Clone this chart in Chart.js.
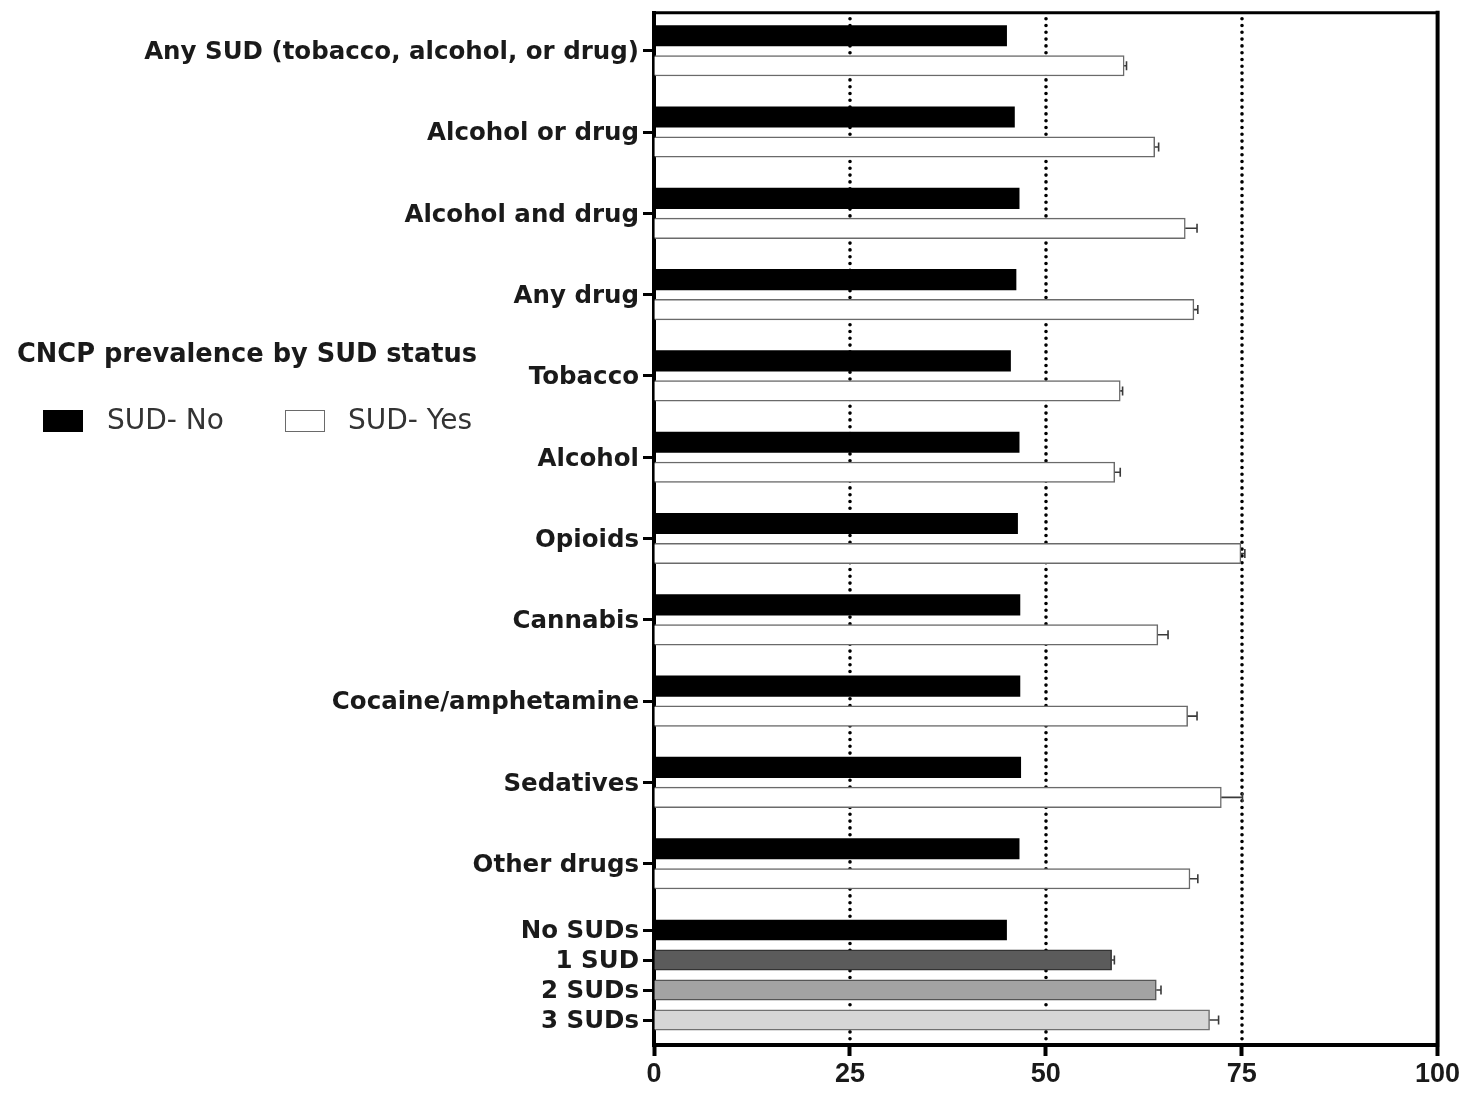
<!DOCTYPE html>
<html>
<head>
<meta charset="utf-8">
<title>CNCP prevalence by SUD status</title>
<script src="https://cdn.jsdelivr.net/npm/chart.js@4.4.1/dist/chart.umd.min.js"></script>
<style>
  html, body { margin: 0; padding: 0; background: #fff; overflow: hidden; }
  #wrap { position: relative; width: 1460px; height: 1095px; overflow: hidden; }
  #chart { position: absolute; left: 0; top: 0; }
  .legend-title { position: absolute; left: 17px; top: 341px; font: bold 25.7px "DejaVu Sans"; line-height: 1; color: #1a1a1a; white-space: nowrap; }
  .legend-item { position: absolute; top: 406px; font: 28px "DejaVu Sans"; line-height: 1; color: #333; white-space: nowrap; }
  .swatch { position: absolute; top: 410px; width: 40px; height: 22px; box-sizing: border-box; }
</style>
</head>
<body>
<div id="wrap">
  <canvas id="chart" width="1480" height="1095" style="width:1480px;height:1095px"></canvas>
  <div class="legend-title" id="legendTitle"></div>
  <div class="swatch" style="left:43px;background:#000"></div>
  <div class="legend-item" id="legendNo" style="left:107px"></div>
  <div class="swatch" style="left:285px;background:#fff;border:1.5px solid #6a6a6a"></div>
  <div class="legend-item" id="legendYes" style="left:348px"></div>
</div>
<script>
// ---- data ----
const legendTitle = 'CNCP prevalence by SUD status';
const seriesNames = ['SUD- No', 'SUD- Yes'];

const groupLabels = [
  'Any SUD (tobacco, alcohol, or drug)',
  'Alcohol or drug',
  'Alcohol and drug',
  'Any drug',
  'Tobacco',
  'Alcohol',
  'Opioids',
  'Cannabis',
  'Cocaine/amphetamine',
  'Sedatives',
  'Other drugs'
];
const sudNo     = [45.0, 46.0, 46.6, 46.2, 45.5, 46.6, 46.4, 46.7, 46.7, 46.8, 46.6];
const sudYes    = [60.0, 63.9, 67.8, 68.9, 59.5, 58.8, 74.9, 64.3, 68.1, 72.4, 68.4];
const sudYesErr = [0.3, 0.5, 1.5, 0.5, 0.3, 0.7, 0.5, 1.3, 1.2, 2.7, 1.0];

const countLabels = ['No SUDs', '1 SUD', '2 SUDs', '3 SUDs'];
const countValues = [45.0, 58.4, 64.1, 70.9];
const countErr    = [0, 0.35, 0.6, 1.15];

const xTicks   = [0, 25, 50, 75, 100];
const refLines = [25, 50, 75];

// ---- vertical layout: one unit = one bar step ----
const FIRST_SLOT = 0.767;
const GROUP_STEP = 2.71;
const AXIS_SPAN  = 34.41;
const slot = (g, k) => FIRST_SLOT + GROUP_STEP * g + k;
const countGroup = groupLabels.length;

const noPoints    = sudNo.map((v, i) => ({ x: v, y: slot(i, 0) }));
const yesPoints   = sudYes.map((v, i) => ({ x: v, y: slot(i, 1) }));
const countPoints = countValues.map((v, i) => ({ x: v, y: slot(countGroup, i) }));

const yTickPos  = groupLabels.map((_, i) => slot(i, 0.5))
                  .concat(countLabels.map((_, i) => slot(countGroup, i)));
const yTickText = groupLabels.concat(countLabels);

document.getElementById('legendTitle').textContent = legendTitle;
document.getElementById('legendNo').textContent = seriesNames[0];
document.getElementById('legendYes').textContent = seriesNames[1];

// dotted reference lines behind the bars
const refLinePlugin = {
  id: 'refLines',
  beforeDatasetsDraw(chart) {
    const { ctx, chartArea } = chart;
    const xs = chart.scales.x;
    ctx.save();
    ctx.strokeStyle = '#000';
    ctx.lineWidth = 3.6;
    ctx.lineCap = 'round';
    ctx.setLineDash([0, 6.8]);
    refLines.forEach(v => {
      const x = Math.round(xs.getPixelForValue(v));
      ctx.beginPath();
      ctx.moveTo(x, chartArea.top + 6);
      ctx.lineTo(x, chartArea.bottom - 2);
      ctx.stroke();
    });
    ctx.restore();
  }
};

// one-sided error bars with caps
const errorBarPlugin = {
  id: 'errorBars',
  afterDatasetsDraw(chart) {
    const { ctx } = chart;
    const xs = chart.scales.x;
    chart.data.datasets.forEach((ds, di) => {
      if (!ds.errors) return;
      const meta = chart.getDatasetMeta(di);
      meta.data.forEach((bar, i) => {
        const e = ds.errors[i];
        if (!e) return;
        const v = ds.data[i].x;
        const x0 = xs.getPixelForValue(v);
        const x1 = xs.getPixelForValue(v + e);
        const y = bar.y;
        ctx.save();
        ctx.strokeStyle = '#3a3a3a';
        ctx.lineWidth = 1.6;
        ctx.beginPath();
        ctx.moveTo(x0, y);
        ctx.lineTo(x1, y);
        ctx.moveTo(x1, y - 4.5);
        ctx.lineTo(x1, y + 4.5);
        ctx.stroke();
        ctx.restore();
      });
    });
  }
};

// closes the plot box on the top and right
const framePlugin = {
  id: 'frame',
  afterDraw(chart) {
    const { ctx, chartArea: a } = chart;
    ctx.save();
    ctx.strokeStyle = '#000';
    ctx.lineCap = 'square';
    ctx.lineWidth = 3;
    ctx.beginPath();
    ctx.moveTo(a.left, a.top);
    ctx.lineTo(a.right, a.top);
    ctx.stroke();
    ctx.lineWidth = 4;
    ctx.beginPath();
    ctx.moveTo(a.right, a.top);
    ctx.lineTo(a.right, a.bottom);
    ctx.stroke();
    ctx.restore();
  }
};

new Chart(document.getElementById('chart'), {
  type: 'bar',
  data: {
    datasets: [
      { label: seriesNames[0], data: noPoints, backgroundColor: '#000', borderWidth: 0 },
      { label: seriesNames[1], data: yesPoints, backgroundColor: '#fff', borderColor: '#6a6a6a', borderWidth: 1.5, errors: sudYesErr },
      { label: 'SUD count', data: countPoints,
        backgroundColor: ['#000000', '#5b5b5b', '#a3a3a3', '#d6d6d6'],
        borderColor: ['#000000', '#333333', '#555555', '#707070'],
        borderWidth: 1.5, errors: countErr }
    ]
  },
  options: {
    indexAxis: 'y',
    responsive: false,
    animation: false,
    events: [],
    datasets: { bar: { grouped: false, barThickness: 20.5, borderSkipped: 'start' } },
    layout: { padding: { top: 12.7, right: 42.4, left: 0, bottom: 0 } },
    plugins: { legend: { display: false }, tooltip: { enabled: false } },
    scales: {
      x: {
        type: 'linear', position: 'bottom', min: 0, max: 100,
        afterBuildTicks: s => { s.ticks = xTicks.map(v => ({ value: v })); },
        afterFit: s => { s.height = 50; s.paddingLeft = 0; s.paddingRight = 0; },
        grid: { drawOnChartArea: false, drawTicks: true, tickLength: 11, tickWidth: 4, tickColor: '#000' },
        border: { display: true, width: 4, color: '#000' },
        ticks: { font: { family: 'Liberation Sans', weight: 'bold', size: 27 }, color: '#1a1a1a', padding: 2, maxRotation: 0, autoSkip: false }
      },
      y: {
        type: 'linear', reverse: true, min: 0, max: AXIS_SPAN, offset: false,
        afterBuildTicks: s => { s.ticks = yTickPos.map(v => ({ value: v })); },
        afterFit: s => { s.width = 654; s.paddingTop = 0; s.paddingBottom = 0; },
        grid: { offset: false, drawOnChartArea: false, drawTicks: true, tickLength: 11, tickWidth: 3, tickColor: '#000' },
        border: { display: true, width: 4, color: '#000' },
        ticks: {
          callback: (v, i) => yTickText[i],
          font: { family: 'DejaVu Sans', weight: 'bold', size: 24.5 },
          color: '#1a1a1a', padding: 4, autoSkip: false, labelOffset: 2
        }
      }
    }
  },
  plugins: [refLinePlugin, errorBarPlugin, framePlugin]
});
</script>
</body>
</html>
